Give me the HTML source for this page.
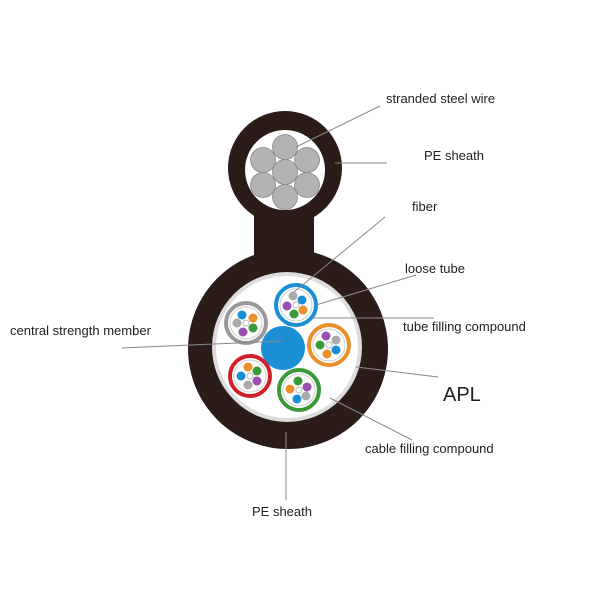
<!DOCTYPE html>
<html><head><style>
html,body{margin:0;padding:0;background:#fff;}
svg{display:block;}
text{font-family:"Liberation Sans",sans-serif;font-size:13px;fill:#222;}
</style></head><body>
<svg width="600" height="600" viewBox="0 0 600 600" xmlns="http://www.w3.org/2000/svg">
<rect width="600" height="600" fill="#fff"/>
<!-- body -->
<circle cx="285" cy="168" r="57" fill="#2b1c19"/>
<rect x="254" y="205" width="60" height="55" fill="#2b1c19"/>
<circle cx="288" cy="349" r="100" fill="#2b1c19"/>
<circle cx="285" cy="170" r="40" fill="#fff"/>
<g fill="#b3b3b3" stroke="#888" stroke-width="0.8">
<circle cx="285" cy="147" r="12.5"/>
<circle cx="307" cy="160" r="12.5"/>
<circle cx="307" cy="185" r="12.5"/>
<circle cx="285" cy="197" r="12.5"/>
<circle cx="263" cy="185" r="12.5"/>
<circle cx="263" cy="160" r="12.5"/>
<circle cx="285" cy="172" r="12.5"/>
</g>
<circle cx="287" cy="347" r="75" fill="#ddd"/>
<circle cx="287" cy="347" r="71" fill="#fff"/>
<circle cx="283" cy="348" r="22" fill="#1a8fd6"/>
<!-- tubes -->
<g id="tubes">
<g transform="translate(296,305)"><circle r="20" fill="#fff" stroke="#1a8fd6" stroke-width="4"/>
<circle r="16" fill="none" stroke="#ccc" stroke-width="1"/>
<circle cx="-3" cy="-9" r="4.5" fill="#aaa"/><circle cx="6" cy="-5" r="4.5" fill="#1a8fd6"/><circle cx="7" cy="5" r="4.5" fill="#e8902a"/><circle cx="-2" cy="9" r="4.5" fill="#3a9a3a"/><circle cx="-9" cy="1" r="4.5" fill="#9b4fb0"/><circle r="3" fill="#fff" stroke="#bbb"/></g>
<g transform="translate(246,323)"><circle r="20" fill="#fff" stroke="#999" stroke-width="4"/>
<circle r="16" fill="none" stroke="#ccc" stroke-width="1"/>
<circle cx="-4" cy="-8" r="4.5" fill="#1a8fd6"/><circle cx="7" cy="-5" r="4.5" fill="#e8902a"/><circle cx="7" cy="5" r="4.5" fill="#3a9a3a"/><circle cx="-3" cy="9" r="4.5" fill="#9b4fb0"/><circle cx="-9" cy="0" r="4.5" fill="#aaa"/><circle r="3" fill="#fff" stroke="#bbb"/></g>
<g transform="translate(329,345)"><circle r="20" fill="#fff" stroke="#e8902a" stroke-width="4"/>
<circle r="16" fill="none" stroke="#ccc" stroke-width="1"/>
<circle cx="-3" cy="-9" r="4.5" fill="#9b4fb0"/><circle cx="7" cy="-5" r="4.5" fill="#aaa"/><circle cx="7" cy="5" r="4.5" fill="#1a8fd6"/><circle cx="-2" cy="9" r="4.5" fill="#e8902a"/><circle cx="-9" cy="0" r="4.5" fill="#3a9a3a"/><circle r="3" fill="#fff" stroke="#bbb"/></g>
<g transform="translate(250,376)"><circle r="20" fill="#fff" stroke="#d0202a" stroke-width="4"/>
<circle r="16" fill="none" stroke="#ccc" stroke-width="1"/>
<circle cx="-2" cy="-9" r="4.5" fill="#e8902a"/><circle cx="7" cy="-5" r="4.5" fill="#3a9a3a"/><circle cx="7" cy="5" r="4.5" fill="#9b4fb0"/><circle cx="-2" cy="9" r="4.5" fill="#aaa"/><circle cx="-9" cy="0" r="4.5" fill="#1a8fd6"/><circle r="3" fill="#fff" stroke="#bbb"/></g>
<g transform="translate(299,390)"><circle r="20" fill="#fff" stroke="#3a9a3a" stroke-width="4"/>
<circle r="16" fill="none" stroke="#ccc" stroke-width="1"/>
<circle cx="-1" cy="-9" r="4.5" fill="#3a9a3a"/><circle cx="8" cy="-3" r="4.5" fill="#9b4fb0"/><circle cx="7" cy="6" r="4.5" fill="#aaa"/><circle cx="-2" cy="9" r="4.5" fill="#1a8fd6"/><circle cx="-9" cy="-1" r="4.5" fill="#e8902a"/><circle r="3" fill="#fff" stroke="#bbb"/></g>
</g>
<!-- leader lines -->
<g stroke="#888" stroke-width="1" fill="none">
<line x1="296" y1="147" x2="380" y2="106"/>
<line x1="335" y1="163" x2="387" y2="163"/>
<line x1="294" y1="292" x2="385" y2="217"/>
<line x1="316" y1="305" x2="416" y2="275"/>
<line x1="312" y1="318" x2="434" y2="318"/>
<line x1="356" y1="367" x2="438" y2="377"/>
<line x1="330" y1="398" x2="412" y2="440"/>
<line x1="122" y1="348" x2="283" y2="341"/>
<line x1="286" y1="432" x2="286" y2="500"/>
</g>
<text x="386" y="103">stranded steel wire</text>
<text x="424" y="160">PE sheath</text>
<text x="412" y="211">fiber</text>
<text x="405" y="273">loose tube</text>
<text x="403" y="331">tube filling compound</text>
<text x="443" y="401" style="font-size:20px">APL</text>
<text x="365" y="453">cable filling compound</text>
<text x="10" y="335">central strength member</text>
<text x="252" y="516">PE sheath</text>
</svg>
</body></html>
